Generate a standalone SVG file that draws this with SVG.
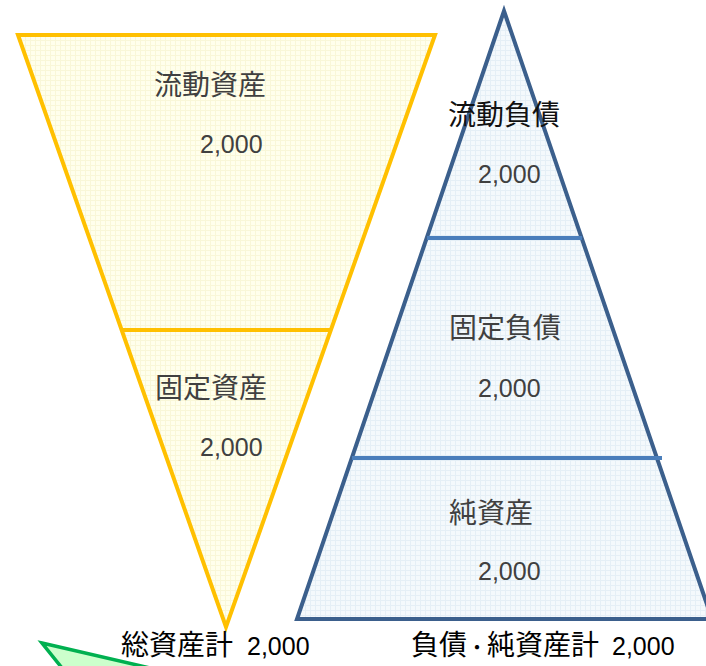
<svg xmlns="http://www.w3.org/2000/svg" width="706" height="666" viewBox="0 0 706 666">
  <defs>
    <pattern id="gridY" width="5" height="5" patternUnits="userSpaceOnUse">
      <rect width="5" height="5" fill="#ffffec"/>
      <path d="M0 0.5H5M0.5 0V5" stroke="#f9f7d8" stroke-width="1" fill="none"/>
    </pattern>
    <pattern id="gridB" width="5" height="5" patternUnits="userSpaceOnUse">
      <rect width="5" height="5" fill="#f4f9fc"/>
      <path d="M0 0.5H5M0.5 0V5" stroke="#e5eff6" stroke-width="1" fill="none"/>
    </pattern>
    <style>
      .lbl { font-family: "Liberation Sans", "Noto Sans CJK JP", sans-serif; fill: #404040; }
      .cjk { font-size: 28px; }
      .num { font-size: 25px; }
      .tot { font-family: "Liberation Sans", "Noto Sans CJK JP", sans-serif; fill: #000; }
      .assets { fill: url(#gridY); stroke: #ffc000; stroke-width: 4; stroke-linejoin: miter; }
      .adiv { stroke: #ffc000; stroke-width: 4; }
      .liab { fill: url(#gridB); stroke: #3b5f8c; stroke-width: 4; stroke-linejoin: miter; }
      .ldiv { stroke: #4a7ebb; stroke-width: 4; }
    </style>
  </defs>
  <rect width="706" height="666" fill="#ffffff"/>

  <g id="assets">
    <polygon class="assets" points="18,35 435,35 226,627"/>
    <line class="adiv" x1="122" y1="330" x2="330" y2="330"/>
  </g>

  <g id="liabilities">
    <polygon class="liab" points="504,11 712,619 297,619"/>
    <line class="ldiv" x1="427" y1="238" x2="582" y2="238"/>
    <line class="ldiv" x1="352" y1="458" x2="662" y2="458"/>
  </g>

  <g id="current-assets">
    <text class="lbl cjk" x="154" y="95">流動資産</text>
    <text class="lbl num" x="200" y="153">2,000</text>
  </g>
  <g id="fixed-assets">
    <text class="lbl cjk" x="155" y="398">固定資産</text>
    <text class="lbl num" x="200" y="456">2,000</text>
  </g>
  <g id="current-liabilities">
    <text class="lbl cjk" x="448" y="125" style="fill:#111">流動負債</text>
    <text class="lbl num" x="478" y="183">2,000</text>
  </g>
  <g id="fixed-liabilities">
    <text class="lbl cjk" x="449" y="338">固定負債</text>
    <text class="lbl num" x="478" y="397">2,000</text>
  </g>
  <g id="net-assets">
    <text class="lbl cjk" x="449" y="523">純資産</text>
    <text class="lbl num" x="478" y="580">2,000</text>
  </g>

  <g id="total-assets">
    <text class="tot" y="655"><tspan x="121" font-size="28">総資産計</tspan><tspan x="247" font-size="25">2,000</tspan></text>
  </g>
  <g id="total-liabilities-net-assets">
    <text class="tot" y="655"><tspan x="411" font-size="28">負債</tspan><tspan x="467" font-size="20">・</tspan><tspan x="487" font-size="28">純資産計</tspan><tspan x="612" font-size="25">2,000</tspan></text>
  </g>

  <g id="connectors">
    <polygon points="42,643 150,668 62,668" fill="#ccffcc" stroke="#00b050" stroke-width="3.5" stroke-linejoin="miter"/>
  </g>
</svg>
